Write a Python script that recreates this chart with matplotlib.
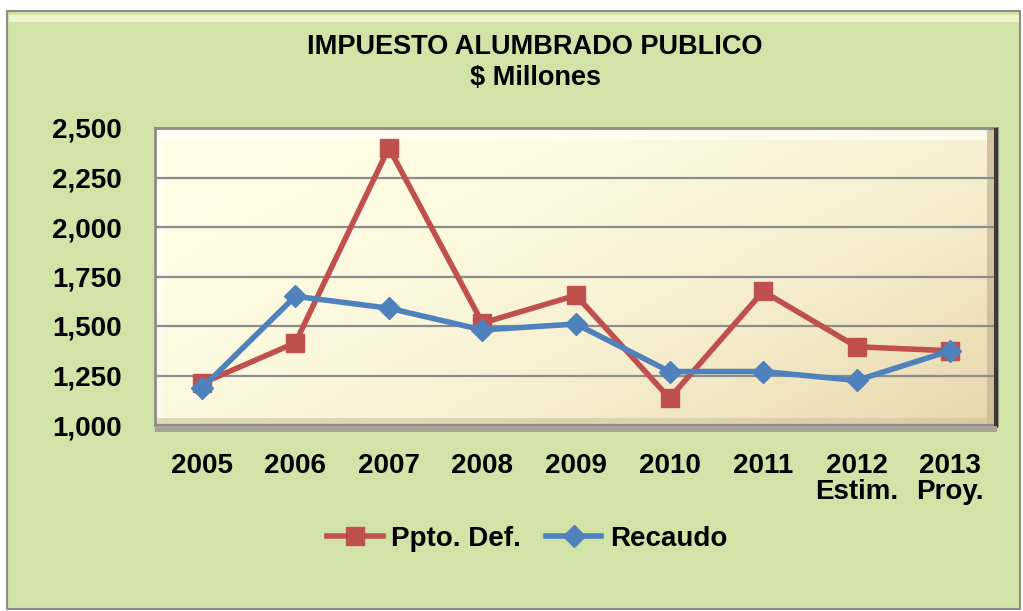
import numpy as np
import matplotlib.pyplot as plt
from matplotlib.patches import Rectangle, FancyBboxPatch

years = ["2005", "2006", "2007", "2008", "2009", "2010", "2011", "2012\nEstim.", "2013\nProy."]
ppto = [1210, 1415, 2400, 1515, 1655, 1135, 1675, 1395, 1375]
recaudo = [1185, 1650, 1590, 1480, 1510, 1270, 1270, 1225, 1375]
yticks = [1000, 1250, 1500, 1750, 2000, 2250, 2500]

plt.rcParams['font.family'] = ['Liberation Sans', 'DejaVu Sans']
plt.rcParams['font.weight'] = 'bold'

W, H = 1023, 611
fig = plt.figure(figsize=(W / 100, H / 100), dpi=100, facecolor='white')

# outer chart area
bg = FancyBboxPatch((7 / W, 2 / H), 1013 / W, 598 / H, boxstyle="square,pad=0",
                    transform=fig.transFigure, fc='#D2E3A7', ec='#8C8C8C', lw=1.5, zorder=-5)
fig.patches.append(bg)
fig.patches.append(Rectangle((9 / W, (H - 22) / H), 1010 / W, 7 / H, transform=fig.transFigure,
                             fc='#EEF4CC', ec='none', zorder=-4))

ax = fig.add_axes([155 / W, (H - 425) / H, 842 / W, 297 / H])
x = np.arange(len(years))

# gradient plot background
gx, gy = np.meshgrid(np.linspace(0, 1, 300), np.linspace(0, 1, 200))
t = np.clip((gx * 0.6 + gy * 0.4), 0, 1) ** 2.2
c0 = np.array([255, 253, 229]) / 255
c1 = np.array([230, 214, 170]) / 255
img = c0 + (c1 - c0) * t[..., None]
ax.imshow(img, extent=[0, 1, 0, 1], transform=ax.transAxes, aspect='auto', zorder=0)

ax.set_xlim(-0.5, len(years) - 0.5)
ax.set_ylim(1000, 2500)
ax.set_yticks(yticks)
ax.set_yticklabels([f"{v:,}" for v in yticks])
ax.set_xticks(x)
ax.set_xticklabels(years, linespacing=1.0)
ax.tick_params(axis='both', length=0, labelsize=20)
ax.tick_params(axis='y', pad=24)
ax.tick_params(axis='x', pad=20)
for lab in ax.get_xticklabels() + ax.get_yticklabels():
    lab.set_fontweight('bold')
ax.grid(axis='y', color='#8C8C8C', lw=1.6, zorder=1)

for s in ax.spines.values():
    s.set_color('#8C8C8C')
    s.set_linewidth(2)
    s.set_zorder(5)

# bevel effect
ax.add_patch(Rectangle((0.003, 0.96), 0.99, 0.03, transform=ax.transAxes, fc='white', ec='none', alpha=0.7, zorder=1))
ax.add_patch(Rectangle((0.003, 0.0), 0.008, 0.985, transform=ax.transAxes, fc='white', ec='none', alpha=0.4, zorder=1))
ax.add_patch(Rectangle((0.988, 0.0), 0.012, 1.0, transform=ax.transAxes, fc='#C9BA95', ec='none', alpha=0.8, zorder=1))
ax.add_patch(Rectangle((0.0, 0.0), 1.0, 0.025, transform=ax.transAxes, fc='#D2C49E', ec='none', alpha=0.6, zorder=1))
ax.add_patch(Rectangle((0.996, -0.01), 0.005, 1.01, transform=ax.transAxes, fc='#3A3A30', ec='none', clip_on=False, zorder=6))
ax.add_patch(Rectangle((0.0, -0.022), 1.0, 0.017, transform=ax.transAxes, fc='#A8A596', ec='none', clip_on=False, zorder=6))

ax.plot(x, ppto, color='#C0504D', lw=4, marker='s', ms=13, zorder=3, label='Ppto. Def.')
ax.plot(x, recaudo, color='#4F81BD', lw=4, marker='D', ms=11, zorder=4, label='Recaudo')

fig.text(535 / W, 1 - 47 / H, "IMPUESTO ALUMBRADO PUBLICO", ha='center', va='center', fontsize=19.5, fontweight='bold')
fig.text(535 / W, 1 - 78 / H, "$ Millones", ha='center', va='center', fontsize=19.5, fontweight='bold')

fig.legend(loc='center', bbox_to_anchor=(527 / W, 1 - 539 / H), ncol=2, frameon=False,
           prop={'size': 20, 'weight': 'bold'}, handlelength=2.0, columnspacing=0.9, handletextpad=0.3)

fig.savefig('out.png', dpi=100, facecolor='white')
